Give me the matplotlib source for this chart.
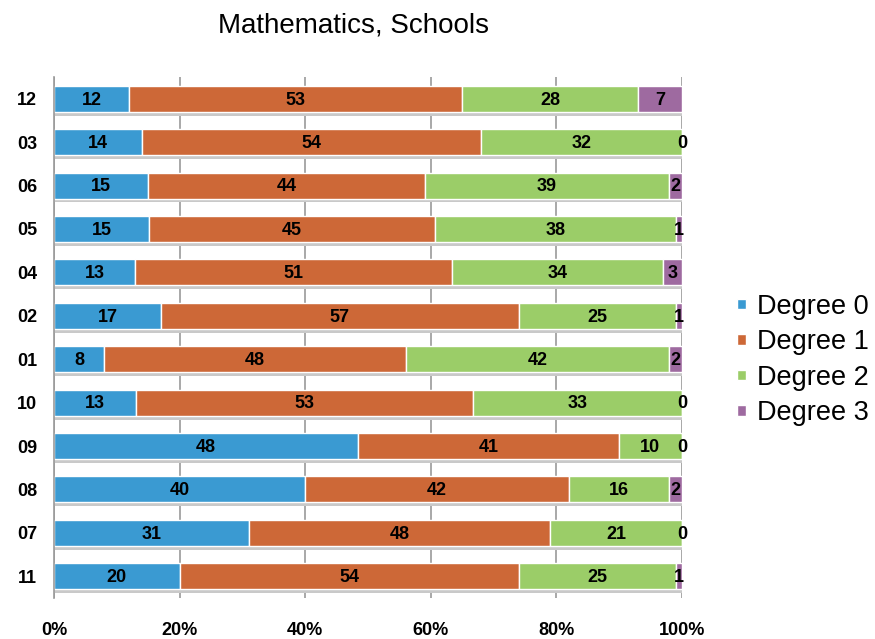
import numpy as np
import matplotlib
matplotlib.use("Agg")
import matplotlib.pyplot as plt
from matplotlib.ticker import FuncFormatter

# Skoler, ovenfra og ned
skoler = ["12", "03", "06", "05", "04", "02", "01", "10", "09", "08", "07", "11"]
grad0 = [12, 14, 15, 15, 13, 17, 8, 13, 48, 40, 31, 20]
grad1 = [53, 54, 44, 45, 51, 57, 48, 53, 41, 42, 48, 54]
grad2 = [28, 32, 39, 38, 34, 25, 42, 33, 10, 16, 21, 25]
grad3 = [7, 0, 2, 1, 3, 1, 2, 0, 0, 2, 0, 1]
serienavn = ["Degree 0", "Degree 1", "Degree 2", "Degree 3"]
farger = ["#3a9ad2", "#cd6837", "#9bcd68", "#9e6aa0"]

data = np.array([grad0, grad1, grad2, grad3], dtype=float)
andel = data / data.sum(axis=0) * 100.0

font = "Liberation Sans"

fig = plt.figure(figsize=(8.75, 6.39), dpi=100)
ax = fig.add_axes([54 / 875, 1 - 598 / 639, 628 / 875, 521 / 639])

y = np.arange(len(skoler))
h = 0.6

# skygge under hver stolpe
ax.barh(y + 0.09, andel.sum(axis=0), height=h, color="#c9c9c9",
        edgecolor="none", zorder=1)

venstre = np.zeros(len(skoler))
for i in range(4):
    ax.barh(y, andel[i], left=venstre, height=h, color=farger[i],
            edgecolor="white", linewidth=1.0, label=serienavn[i], zorder=2)
    for j in range(len(skoler)):
        ax.text(venstre[j] + andel[i][j] / 2, y[j] + 0.03, "%d" % data[i][j],
                ha="center", va="center", fontsize=13, fontweight="bold",
                family=font, color="black", zorder=3)
    venstre += andel[i]

ax.set_xlim(0, 100)
ax.set_ylim(len(skoler) - 0.5, -0.5)
ax.set_xticks([0, 20, 40, 60, 80, 100])
ax.xaxis.set_major_formatter(FuncFormatter(lambda v, p: "%d%%" % v))
ax.set_yticks(y)
ax.set_yticklabels(skoler)
for lab in ax.get_xticklabels() + ax.get_yticklabels():
    lab.set_fontweight("bold")
    lab.set_fontsize(13)
    lab.set_family(font)
ax.tick_params(axis="both", length=0)
ax.tick_params(axis="x", pad=17)
ax.tick_params(axis="y", pad=12)

ax.grid(axis="x", color="#9a9a9a", linewidth=1.2, zorder=0)
ax.set_axisbelow(True)
for s in ["top", "right", "bottom"]:
    ax.spines[s].set_visible(False)
ax.spines["left"].set_color("#9a9a9a")
ax.spines["left"].set_linewidth(1.2)

fig.text(354 / 875, 1 - 25 / 639, "Mathematics, Schools", ha="center",
         va="center", fontsize=20, family=font)

fig.legend(loc="center left", bbox_to_anchor=(737 / 875, 1 - 360 / 639),
           frameon=False, prop={"family": font, "size": 19.5},
           handlelength=0.33, handleheight=0.22, handletextpad=0.4,
           labelspacing=0.35, borderpad=0, borderaxespad=0)

fig.savefig("out.png", dpi=100)
